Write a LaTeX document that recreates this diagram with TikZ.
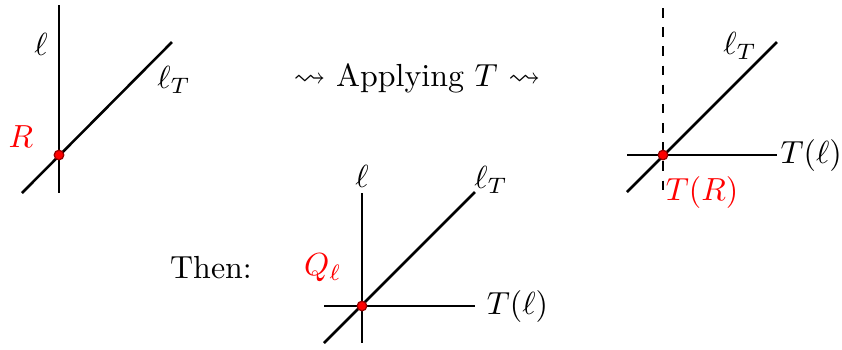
\documentclass[tikz,border=0pt]{standalone}
\usepackage{amsmath}
\usepackage{amssymb}
\usetikzlibrary{positioning}

\begin{document}
\begin{tikzpicture}[x=0.011cm, y=-0.011cm,
    line/.style={thick},
    dot/.style={circle, fill=red, draw=red!60!black, inner sep=0pt, minimum size=3pt},
    lbl/.style={inner sep=1pt},
    redlbl/.style={lbl, text=red}
]
    \useasboundingbox (0,0) rectangle (842,349);

    % Before: l and l_T meeting at R
    \coordinate (Rtop) at (59,5);
    \coordinate (Rbot) at (59,193);
    \coordinate (RdA) at (22,193);
    \coordinate (RdB) at (172,42);
    \draw[line] (Rtop) -- (Rbot);
    \draw[line] (RdA) -- (RdB);
    \node[dot] (R) at (59,155) {};
    \node[lbl] (Rl) at (41,44) {$\ell$};
    \node[lbl] (RlT) at (174,80) {$\ell_T$};
    \node[redlbl] (Rname) at (21,137) {$R$};

    % Middle text
    \node (apply) at (417,78) {$\leadsto$ Applying $T$ $\leadsto$};

    % After: T(l) and l_T meeting at T(R)
    \coordinate (Ttop) at (663,8);
    \coordinate (Tbot) at (663,193);
    \coordinate (ThA) at (627,155);
    \coordinate (ThB) at (777,155);
    \coordinate (TdA) at (627,192);
    \coordinate (TdB) at (777,42);
    \draw[line, dashed] (Ttop) -- (Tbot);
    \draw[line] (ThA) -- (ThB);
    \draw[line] (TdA) -- (TdB);
    \node[dot] (TR) at (663,155) {};
    \node[lbl] (TlT) at (740,46) {$\ell_T$};
    \node[lbl, inner sep=0pt, anchor=west] (Tl) at (780,155) {$T(\ell)$};
    \node[redlbl] (TRname) at (702,192) {$T(R)$};

    % Then: all three meeting at Q_l
    \node (then) at (211,268) {Then:};
    \coordinate (Qtop) at (362,193);
    \coordinate (Qbot) at (362,343);
    \coordinate (QhA) at (324,306);
    \coordinate (QhB) at (475,306);
    \coordinate (QdA) at (324,343);
    \coordinate (QdB) at (475,192);
    \draw[line] (Qtop) -- (Qbot);
    \draw[line] (QhA) -- (QhB);
    \draw[line] (QdA) -- (QdB);
    \node[dot] (Q) at (362,306) {};
    \node[lbl] (Ql) at (362,176) {$\ell$};
    \node[lbl] (QlT) at (491,180) {$\ell_T$};
    \node[lbl, anchor=west] (QTl) at (483,306) {$T(\ell)$};
    \node[redlbl] (Qname) at (323,268) {$Q_\ell$};
\end{tikzpicture}
\end{document}
